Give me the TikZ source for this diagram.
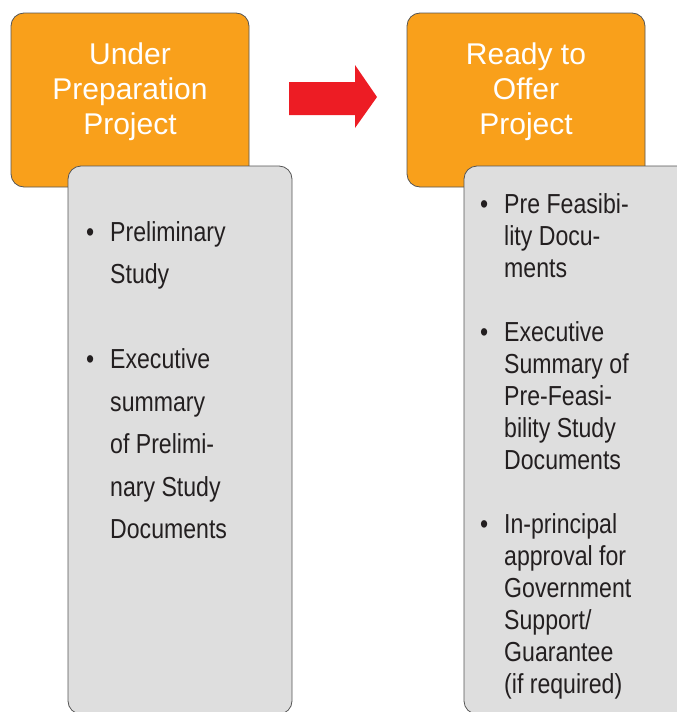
\documentclass[tikz,border=0pt]{standalone}
\usepackage{fontspec}
\setmainfont{Liberation Sans}
\newfontfamily\condfont[FakeStretch=0.84]{Liberation Sans}
\usepackage{tikz}

\definecolor{boxorange}{HTML}{F9A01B}
\definecolor{boxgrey}{HTML}{DEDEDE}
\definecolor{boxline}{HTML}{555555}
\definecolor{arrowred}{HTML}{ED1C24}
\definecolor{listink}{HTML}{231F20}

\newcommand{\bul}{\makebox[24pt][l]{\textbullet}}
\newcommand{\ind}{\hspace*{24pt}}

\begin{document}
\begin{tikzpicture}[x=1pt,y=-1pt,
	orangebox/.style={draw=boxline,line width=0.8pt,fill=boxorange,rounded corners=13pt},
	greybox/.style={draw=boxline,line width=0.8pt,fill=boxgrey,rounded corners=13pt},
	headtext/.style={text=white,align=center,inner sep=0pt,font=\fontsize{30}{35}\selectfont},
	listtext/.style={text=listink,align=left,inner sep=0pt,anchor=north west}]
	\useasboundingbox (0,0) rectangle (677,712);
	% Orange stage boxes
	\draw[orangebox] (11,13) rectangle (249,187);
	\draw[orangebox] (407,13) rectangle (645,187);
	% Grey document boxes (run off the page)
	\draw[greybox] (68,166) rectangle (292,714);
	\draw[greybox] (464,166) rectangle (692,714);
	% Stage titles
	\node[headtext] (under) at (130,91.5) {Under\\Preparation\\Project};
	\node[headtext] (ready) at (526,91.5) {Ready to\\Offer\\Project};
	% Red arrow between the stages
	\coordinate (arrowtail) at (289,97);
	\fill[arrowred] (arrowtail) ++(0,-15) -- ++(66,0) -- ++(0,-17) -- (377,97)
		-- (355,128) -- ++(0,-13) -- ++(-66,0) -- cycle;
	% Document lists
	\node[listtext,font=\condfont\fontsize{27.5}{42.5}\selectfont] (prepdocs) at (86,221) {%
		\bul Preliminary\\
		\ind Study\\[42.5pt]
		\bul Executive\\
		\ind summary\\
		\ind of Prelimi-\\
		\ind nary Study\\
		\ind Documents};
	\node[listtext,font=\condfont\fontsize{27.5}{32}\selectfont] (offerdocs) at (480,193) {%
		\bul Pre Feasibi-\\
		\ind lity Docu-\\
		\ind ments\\[32pt]
		\bul Executive\\
		\ind Summary of\\
		\ind Pre-Feasi-\\
		\ind bility Study\\
		\ind Documents\\[32pt]
		\bul In-principal\\
		\ind approval for\\
		\ind Government\\
		\ind Support/\\
		\ind Guarantee\\
		\ind (if required)};
\end{tikzpicture}
\end{document}
